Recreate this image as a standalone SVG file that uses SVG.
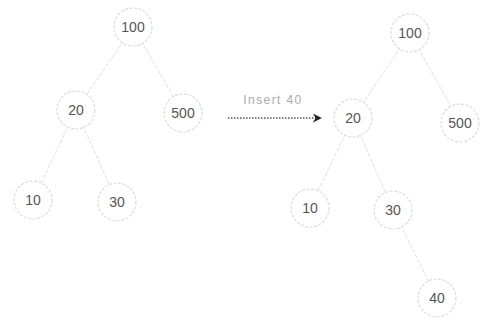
<svg xmlns="http://www.w3.org/2000/svg" width="485" height="325" viewBox="0 0 485 325">
<defs>
<style>
.n circle{fill:#fff;stroke:#dcdcdc;stroke-width:1.2;stroke-dasharray:3 1.5}
.n text{font-family:"Liberation Sans",Arial,sans-serif;font-size:14px;fill:#555;text-anchor:middle;dominant-baseline:central}
.e line{stroke:#e0e0e0;stroke-width:1;stroke-dasharray:4 1.5}
.lbl{font-family:"Liberation Sans",Arial,sans-serif;font-size:12px;letter-spacing:1.4px;fill:#aaa;text-anchor:middle}
</style>
<marker id="ah" viewBox="0 0 10 10" refX="9" refY="5" markerWidth="9" markerHeight="9" orient="auto" markerUnits="userSpaceOnUse">
<path d="M0,0 L10,5 L0,10 L3,5 Z" fill="#222"/>
</marker>
</defs>
<rect width="485" height="325" fill="#fff"/>
<g id="connectors" class="e">
<line x1="133" y1="27" x2="76" y2="110"/>
<line x1="133" y1="27" x2="183" y2="113"/>
<line x1="76" y1="110" x2="33" y2="200"/>
<line x1="76" y1="110" x2="117" y2="202"/>
<line x1="410" y1="33" x2="353" y2="118"/>
<line x1="410" y1="33" x2="460" y2="123"/>
<line x1="353" y1="118" x2="310" y2="208"/>
<line x1="353" y1="118" x2="393" y2="210"/>
<line x1="393" y1="210" x2="437" y2="298"/>
</g>
<g id="arrow">
<line x1="228" y1="118" x2="321" y2="118" stroke="#555" stroke-width="1.3" stroke-dasharray="1.5 1.5" marker-end="url(#ah)"/>
<text class="lbl" x="273" y="104">Insert 40</text>
</g>
<g id="L100" class="n"><circle cx="133" cy="27" r="19"/><text x="133" y="27">100</text></g>
<g id="L20" class="n"><circle cx="76" cy="110" r="19"/><text x="76" y="110">20</text></g>
<g id="L500" class="n"><circle cx="183" cy="113" r="19"/><text x="183" y="113">500</text></g>
<g id="L10" class="n"><circle cx="33" cy="200" r="19"/><text x="33" y="200">10</text></g>
<g id="L30" class="n"><circle cx="117" cy="202" r="19"/><text x="117" y="202">30</text></g>
<g id="R100" class="n"><circle cx="410" cy="33" r="19"/><text x="410" y="33">100</text></g>
<g id="R20" class="n"><circle cx="353" cy="118" r="19"/><text x="353" y="118">20</text></g>
<g id="R500" class="n"><circle cx="460" cy="123" r="19"/><text x="460" y="123">500</text></g>
<g id="R10" class="n"><circle cx="310" cy="208" r="19"/><text x="310" y="208">10</text></g>
<g id="R30" class="n"><circle cx="393" cy="210" r="19"/><text x="393" y="210">30</text></g>
<g id="R40" class="n"><circle cx="437" cy="298" r="19"/><text x="437" y="298">40</text></g>
</svg>
